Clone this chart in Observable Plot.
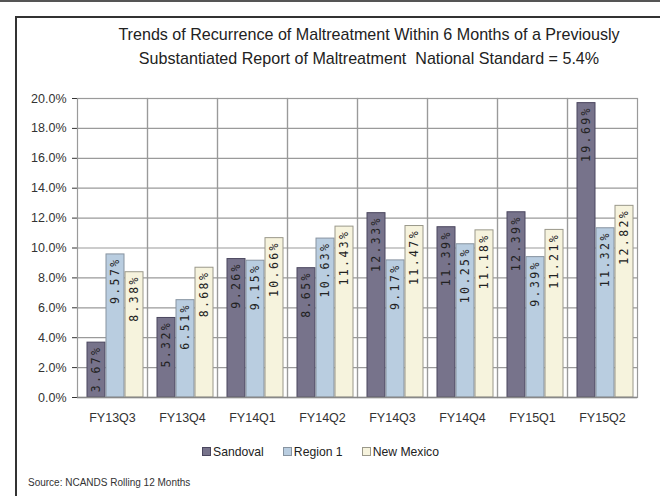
<!DOCTYPE html>
<html>
<head>
<meta charset="utf-8">
<script src="https://cdn.jsdelivr.net/npm/d3@7"></script>
<script src="https://cdn.jsdelivr.net/npm/@observablehq/plot@0.6"></script>
<style>
  html, body { margin: 0; padding: 0; background: #fff; }
  #wrap { position: relative; width: 660px; height: 496px; overflow: hidden; background: #fff; }
  #topline { position: absolute; left: 0; top: 0; width: 660px; height: 2px; background: #555; }
  #box { position: absolute; left: 15px; top: 16px; width: 660px; height: 500px; border-left: 2px solid #333; border-top: 2px solid #333; }
  #chart { position: absolute; left: 0; top: 0; }
  #title { position: absolute; left: 69px; width: 600px; top: 22px; text-align: center;
           font-family: "Liberation Sans", Arial, sans-serif; font-size: 16.1px; line-height: 24px; color: #222; }
  #legend { position: absolute; top: 445px; left: 202px; font-family: "Liberation Sans", Arial, sans-serif;
            font-size: 12.2px; color: #222; display: flex; gap: 19px; white-space: nowrap; }
  #legend span.sw { display: inline-block; width: 7px; height: 7px; border: 1px solid #666; margin-right: 2px; vertical-align: 0px; }
  #source { position: absolute; left: 28px; top: 477px; font-family: "Liberation Sans", Arial, sans-serif; font-size: 10px; color: #333; }
  #chart g[aria-label="text"] text { letter-spacing: 2.4px; }
</style>
</head>
<body>
<div id="wrap">
  <div id="topline"></div>
  <div id="box"></div>
  <div id="chart"></div>
  <div id="title">Trends of Recurrence of Maltreatment Within 6 Months of a Previously<br>Substantiated Report of Maltreatment&nbsp; National Standard = 5.4%</div>
  <div id="legend"></div>
  <div id="source">Source: NCANDS Rolling 12 Months</div>
</div>
<script>
const categories = ["FY13Q3", "FY13Q4", "FY14Q1", "FY14Q2", "FY14Q3", "FY14Q4", "FY15Q1", "FY15Q2"];
const seriesNames = ["Sandoval", "Region 1", "New Mexico"];
const sandoval = [3.67, 5.32, 9.26, 8.65, 12.33, 11.39, 12.39, 19.69];
const region1 = [9.57, 6.51, 9.15, 10.63, 9.17, 10.25, 9.39, 11.32];
const newMexico = [8.38, 8.68, 10.66, 11.43, 11.47, 11.18, 11.21, 12.82];
const yTicks = [0, 2, 4, 6, 8, 10, 12, 14, 16, 18, 20];
const fills = ["#77738b", "#b9cde0", "#f6f3dd"];
const outlines = ["#4a465e", "#8793a0", "#9a988a"];

const seriesValues = [sandoval, region1, newMexico];
const data = [];
categories.forEach((q, i) => {
  seriesNames.forEach((s, j) => {
    data.push({quarter: q, series: s, value: seriesValues[j][i] / 100});
  });
});
const tickFrac = yTicks.map(t => t / 100);

const chart = Plot.plot({
  width: 660,
  height: 496,
  marginTop: 98,
  marginBottom: 99,
  marginLeft: 77,
  marginRight: 23,
  style: {fontFamily: "'Liberation Sans', Arial, sans-serif", fontSize: "12.5px", color: "#333", background: "transparent"},
  fx: {domain: categories, padding: 0, label: null, tickSize: 0, tickPadding: 16},
  x: {domain: seriesNames, axis: null, paddingInner: 0.04, paddingOuter: 0.3, align: 0.7},
  y: {domain: [0, 0.2], ticks: tickFrac, tickFormat: d3.format(".1%"), label: null, tickSize: 5, tickPadding: 6},
  color: {domain: seriesNames, range: fills},
  marks: [
    Plot.ruleY(tickFrac, {stroke: "#9a9a9a", strokeWidth: 1.2}),
    Plot.frame({stroke: "#9a9a9a", strokeWidth: 1.2}),
    Plot.barY(data, {fx: "quarter", x: "series", y: "value", fill: "series",
      stroke: d => outlines[seriesNames.indexOf(d.series)], strokeWidth: 1}),
    Plot.text(data, {fx: "quarter", x: "series", y: "value", text: d => d3.format(".2%")(d.value),
      rotate: -90, textAnchor: "end", lineAnchor: "middle", dy: 3,
      fontFamily: "DejaVu Sans Mono", fontSize: 11.5, fill: "#222"}),
    Plot.ruleY([0], {stroke: "#888", strokeWidth: 1.5})
  ]
});
document.getElementById("chart").appendChild(chart);

const legend = document.getElementById("legend");
seriesNames.forEach((s, j) => {
  const item = document.createElement("div");
  const sw = document.createElement("span");
  sw.className = "sw";
  sw.style.background = fills[j];
  sw.style.borderColor = outlines[j];
  item.appendChild(sw);
  item.appendChild(document.createTextNode(s));
  legend.appendChild(item);
});
</script>
</body>
</html>
